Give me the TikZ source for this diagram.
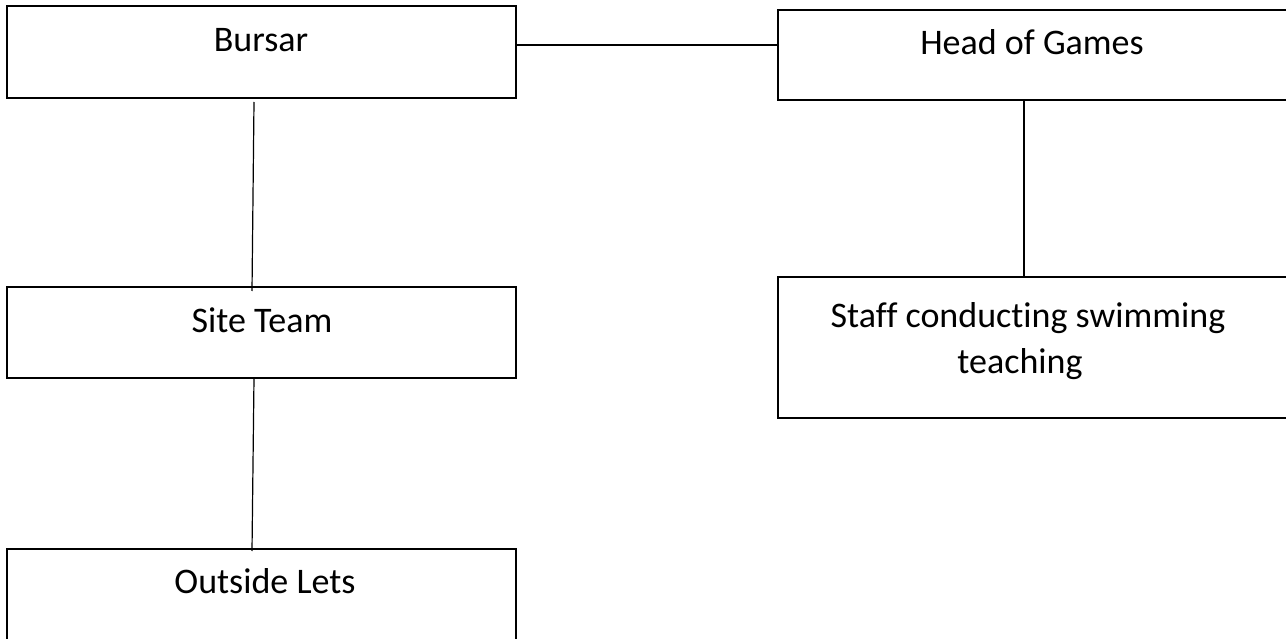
\documentclass[tikz,border=0pt]{standalone}
\usepackage{fontspec}
\setmainfont{Carlito}[Ligatures={NoCommon}]
\begin{document}
\begin{tikzpicture}[x=1pt,y=-1pt,
  box/.style={draw=black,line width=1.8pt,rectangle,anchor=north west,inner sep=0pt,outer sep=0pt},
  lbl/.style={anchor=base,inner sep=0pt,font=\fontsize{36}{43}\selectfont},
  link/.style={draw=black,line width=1.2pt}]
\useasboundingbox (0,0) rectangle (1286,639);
\clip (0,0) rectangle (1286,639);
% boxes
\node[box,minimum width=509pt,minimum height=92pt] (bursar) at (7,6) {};
\node[box,minimum width=514pt,minimum height=90pt] (hog) at (778,10) {};
\node[box,minimum width=509pt,minimum height=91pt] (site) at (7,287) {};
\node[box,minimum width=514pt,minimum height=141pt] (staff) at (778,277) {};
\node[box,minimum width=509pt,minimum height=110pt] (lets) at (7,549) {};
% labels
\node[lbl] (tbursar) at (261,52) {Bursar};
\node[lbl] (thog) at (1032,55) {Head of Games};
\node[lbl] (tsite) at (262,333) {Site Team};
\node[lbl] (tstaff1) at (1028,327) {Staff conducting swimming};
\node[lbl] (tstaff2) at (1020,373) {teaching};
\node[lbl] (tlets) at (265,593) {Outside Lets};
% connectors
\draw[link] (bursar.east |- 0,45) -- (hog.west |- 0,45);
\draw[link] ([xshift=-7.5pt,yshift=-4pt]bursar.south) -- ([xshift=-9.5pt,yshift=-4pt]site.north);
\draw[link] ([xshift=-7.5pt]site.south) -- ([xshift=-9.5pt,yshift=-2pt]lets.north);
\draw[link] ([xshift=-11pt]hog.south) -- ([xshift=-11pt]staff.north);
\end{tikzpicture}
\end{document}
